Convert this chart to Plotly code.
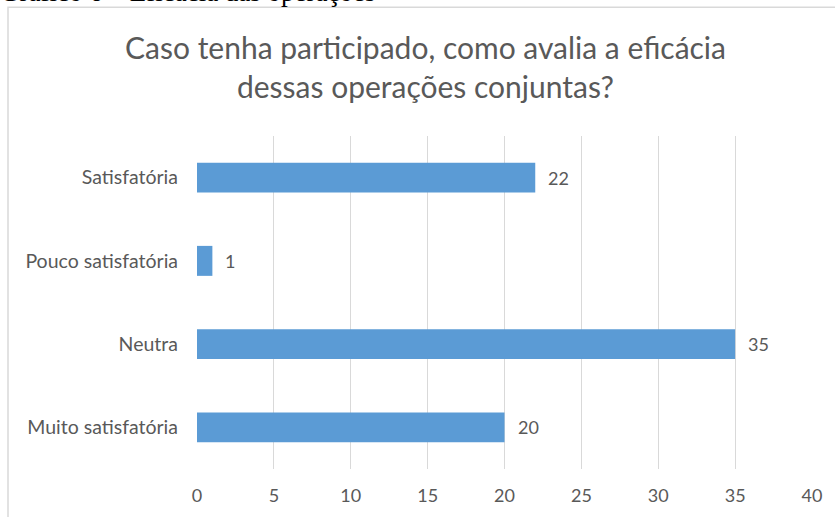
import plotly.graph_objects as go

categories = ["Muito satisfatória", "Neutra", "Pouco satisfatória", "Satisfatória"]
values = [20, 35, 1, 22]
x_ticks = [0, 5, 10, 15, 20, 25, 30, 35, 40]
title_text = "Caso tenha participado, como avalia a eficácia<br>dessas operações conjuntas?"
caption_text = "Gráfico 6 – Eficácia das operações"

W, H = 835, 517
L, R, T, B = 197, 23, 136, 47.5
pw, ph = W - L - R, H - T - B

def px(x):
    return (x - L) / pw

def py(y):
    return (H - B - y) / ph

FONT = "Lato"
GRAY = "#595959"

fig = go.Figure()
fig.add_trace(go.Bar(
    y=categories, x=values, orientation="h",
    marker=dict(color="#5b9bd5", line=dict(width=0)),
    width=0.36,
    hoverinfo="skip",
))

annotations = []
for c, v in zip(categories, values):
    annotations.append(dict(x=v, y=c, xref="x", yref="y", text=str(v),
                            showarrow=False, xanchor="left", xshift=11,
                            font=dict(family=FONT, size=18, color=GRAY)))
annotations.append(dict(x=px(425), y=py(66), xref="paper", yref="paper",
                        text=title_text, showarrow=False, xanchor="center",
                        yanchor="middle", align="center",
                        font=dict(family=FONT, size=30, color=GRAY)))
annotations.append(dict(x=px(-2), y=py(9), xref="paper", yref="paper",
                        text=caption_text, showarrow=False, xanchor="left",
                        yanchor="bottom",
                        font=dict(family="Liberation Serif", size=27, color="#000000")))

fig.update_layout(
    width=W, height=H,
    margin=dict(l=L, r=R, t=T, b=B, pad=0),
    paper_bgcolor="white", plot_bgcolor="white",
    showlegend=False,
    annotations=annotations,
    shapes=[dict(type="rect", xref="paper", yref="paper",
                 x0=px(8), x1=px(845), y0=py(530), y1=py(7),
                 line=dict(color="#d9d9d9", width=1.5), fillcolor="rgba(0,0,0,0)",
                 layer="below")],
    xaxis=dict(range=[0, 40], tickvals=x_ticks, showgrid=True, gridcolor="#d9d9d9",
               gridwidth=1, zeroline=False, showline=False,
               tickfont=dict(family=FONT, size=18, color=GRAY),
               ticks="", ticklabelstandoff=14, fixedrange=True),
    yaxis=dict(categoryorder="array", categoryarray=categories,
               showgrid=False, zeroline=False, showline=False,
               tickfont=dict(family=FONT, size=19.5, color=GRAY),
               ticks="", ticklabelstandoff=18, fixedrange=True),
)

fig.write_html("out.html", config={"displayModeBar": False},
               post_script="document.body.style.margin='0';document.body.style.overflow='hidden';")
